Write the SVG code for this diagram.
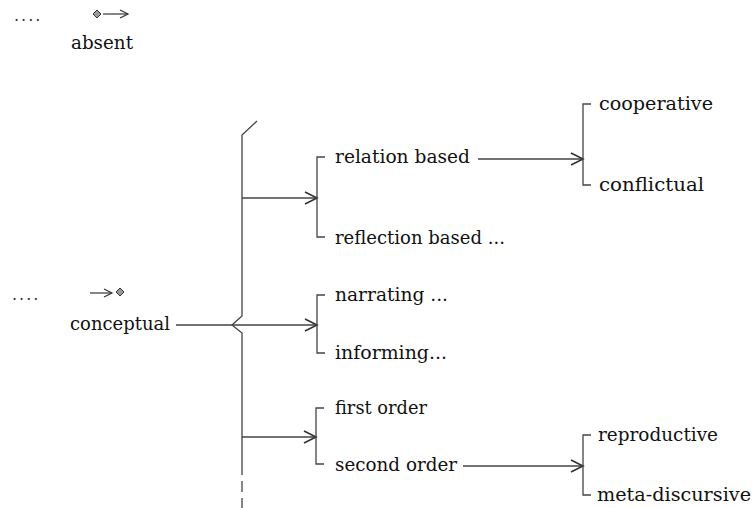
<svg xmlns="http://www.w3.org/2000/svg" width="752" height="508" viewBox="0 0 752 508">
  <style>
    .t { font-family: "DejaVu Serif", "Liberation Serif", serif; font-size: 18px; fill: #111; }
    .dots { font-family: "DejaVu Serif", serif; font-size: 16px; fill: #333; letter-spacing: 2px; }
    .ln { stroke: #444; stroke-width: 1.3; fill: none; }
    .br { stroke: #444; stroke-width: 1.3; fill: none; }
    .dia { fill: #999; stroke: #333; stroke-width: 1; }
  </style>
  <defs>
    <marker id="chev" viewBox="-14 -8 16 16" markerWidth="16" markerHeight="16" refX="0" refY="0" markerUnits="userSpaceOnUse" orient="auto">
      <path d="M-12,-6 L0,0 L-12,6" fill="none" stroke="#333" stroke-width="1.6"/>
    </marker>
    <marker id="chevS" viewBox="-10 -6 12 12" markerWidth="12" markerHeight="12" refX="0" refY="0" markerUnits="userSpaceOnUse" orient="auto">
      <path d="M-8,-4 L0,0 L-8,4" fill="none" stroke="#333" stroke-width="1.2"/>
    </marker>
  </defs>

  <!-- upper legend: absent -->
  <g id="absent">
    <text class="dots" x="14" y="21">....</text>
    <polygon class="dia" points="97,10 101,14 97,18 93,14"/>
    <line class="ln" x1="103" y1="14" x2="128" y2="14" marker-end="url(#chevS)"/>
    <text class="t" x="71" y="49" textLength="62" lengthAdjust="spacingAndGlyphs">absent</text>
  </g>

  <!-- lower legend: conceptual -->
  <g id="conceptual">
    <text class="dots" x="12" y="300">....</text>
    <line class="ln" x1="90" y1="293" x2="112" y2="293" marker-end="url(#chevS)"/>
    <polygon class="dia" points="120,288 124,292 120,296 116,292"/>
    <text class="t" x="70" y="330" textLength="100" lengthAdjust="spacingAndGlyphs">conceptual</text>
  </g>

  <!-- connectors -->
  <g id="connectors">
    <!-- main vertical stem with top slash and notch -->
    <path class="ln" d="M257,121 L242,135 L242,316 L232,325 L242,333 L242,464"/>
    <line class="ln" x1="242" y1="464" x2="242" y2="508" stroke-dasharray="11,6"/>
    <!-- conceptual into stem and on to middle bracket -->
    <line class="ln" x1="176" y1="325" x2="317" y2="325" marker-end="url(#chev)"/>
    <!-- stem to upper and lower brackets -->
    <line class="ln" x1="242" y1="198" x2="317" y2="198" marker-end="url(#chev)"/>
    <line class="ln" x1="242" y1="437" x2="316" y2="437" marker-end="url(#chev)"/>
    <!-- relation based to cooperative/conflictual -->
    <line class="ln" x1="478" y1="159" x2="583" y2="159" marker-end="url(#chev)"/>
    <!-- second order to reproductive/meta-discursive -->
    <line class="ln" x1="463" y1="466" x2="583" y2="466" marker-end="url(#chev)"/>
  </g>

  <!-- relation / reflection -->
  <g id="group-relation">
    <path class="br" d="M325,157 L317,157 L317,237 L325,237"/>
    <text class="t" x="335" y="163" textLength="135" lengthAdjust="spacingAndGlyphs">relation based</text>
    <text class="t" x="335" y="244" textLength="170" lengthAdjust="spacingAndGlyphs">reflection based ...</text>
  </g>

  <!-- narrating / informing -->
  <g id="group-narrating">
    <path class="br" d="M325,295 L317,295 L317,353 L325,353"/>
    <text class="t" x="335" y="301" textLength="113" lengthAdjust="spacingAndGlyphs">narrating ...</text>
    <text class="t" x="335" y="359" textLength="112" lengthAdjust="spacingAndGlyphs">informing...</text>
  </g>

  <!-- first / second order -->
  <g id="group-order">
    <path class="br" d="M324,408 L316,408 L316,464 L324,464"/>
    <text class="t" x="335" y="414" textLength="92" lengthAdjust="spacingAndGlyphs">first order</text>
    <text class="t" x="335" y="471" textLength="122" lengthAdjust="spacingAndGlyphs">second order</text>
  </g>

  <!-- cooperative / conflictual -->
  <g id="group-relation-kind">
    <path class="br" d="M591,104 L583,104 L583,185 L591,185"/>
    <text class="t" x="599" y="110" textLength="114" lengthAdjust="spacingAndGlyphs">cooperative</text>
    <text class="t" x="599" y="191" textLength="105" lengthAdjust="spacingAndGlyphs">conflictual</text>
  </g>

  <!-- reproductive / meta-discursive -->
  <g id="group-second-order">
    <path class="br" d="M591,435 L583,435 L583,495 L591,495"/>
    <text class="t" x="598" y="441" textLength="120" lengthAdjust="spacingAndGlyphs">reproductive</text>
    <text class="t" x="597" y="501" textLength="154" lengthAdjust="spacingAndGlyphs">meta-discursive</text>
  </g>
</svg>
